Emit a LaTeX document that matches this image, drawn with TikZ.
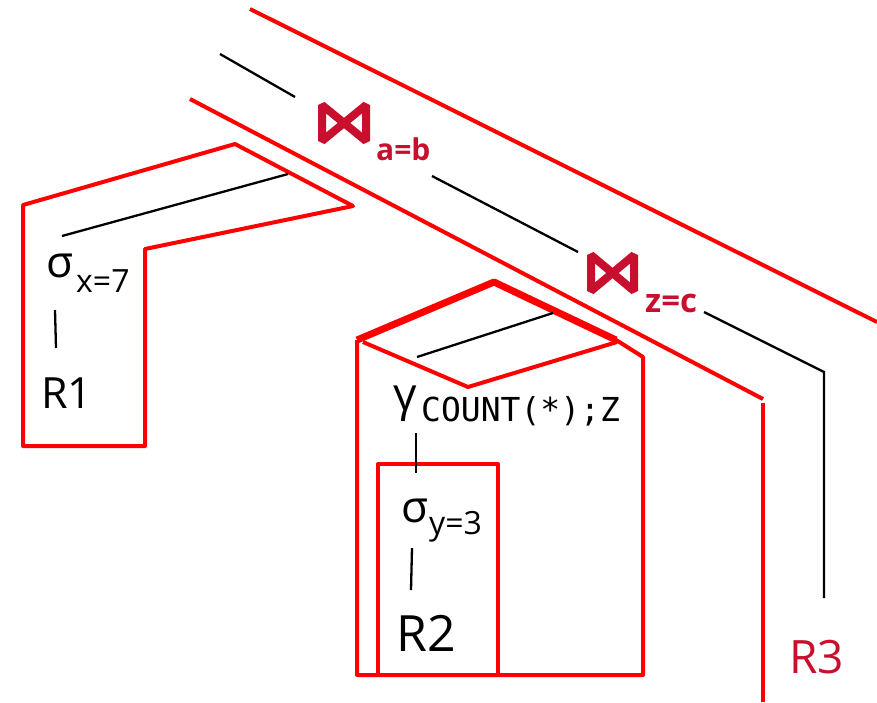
\documentclass[tikz,border=0pt]{standalone}
\usepackage{fontspec}
\setmainfont{Open Sans}
\newfontfamily\monofam{DejaVu Sans Mono}
\definecolor{crim}{RGB}{200,16,46}
\newcommand{\fsz}[1]{\fontsize{#1pt}{#1pt}\selectfont}

\begin{document}
\begin{tikzpicture}[x=1pt,y=-1pt,
  redline/.style={draw=red, line width=4pt, line join=round},
  heavyred/.style={draw=red, line width=7pt, line join=round},
  treeedge/.style={draw=black, line width=2.3pt},
  bowtie/.style={draw=crim, line width=8pt, line join=bevel},
  lbl/.style={inner sep=0pt, anchor=base west},
  joincond/.style={lbl, text=crim, font=\bfseries\fsz{#1}},
]
\useasboundingbox (0,0) rectangle (877,702);

% outer pipeline boundaries
\draw[redline] (250,9) -- (877,322);
\draw[redline] (190,99) -- (763,399);
\draw[redline] (763,403) -- (763,702);

% block around the selection on R1
\draw[redline] (23,446) -- (23,205) -- (235,144) -- (353,206) -- (145,249) -- (145,446) -- cycle;

% block around the aggregation
\draw[redline] (363,342) -- (468,387) -- (617,342);
\draw[redline] (613,338) -- (643,357) -- (643,675) -- (357,675) -- (357,340);
\draw[heavyred] (357,340) -- (494,282) -- (616,340);

% block around the selection on R2
\draw[redline] (378,464) rectangle (498,675);

% join operators
\draw[bowtie] (322,105) -- (366,141) -- (366,105) -- (322,141) -- cycle;
\draw[bowtie] (591,255) -- (634,291) -- (634,255) -- (591,291) -- cycle;
\node[joincond=30] (jab) at (376,160) {a=b};
\node[joincond=33] (jzc) at (645,312) {z=c};

% operator labels
\node[lbl, font=\fsz{44}] (selx) at (46,277) {σ};
\node[lbl, font=\fsz{32}] (selxs) at (76,292) {x=7};
\node[lbl, font=\fsz{43}] (r1) at (41,408) {R1};
\node[lbl, font=\fsz{46}] (agg) at (393,410) {γ};
\node[lbl, font=\monofam\fsz{33}] (aggs) at (421,421) {COUNT(*);Z};
\node[lbl, font=\fsz{44}] (sely) at (401,522) {σ};
\node[lbl, font=\fsz{32}] (selys) at (429,534) {y=3};
\node[lbl, font=\fsz{50}] (r2) at (396,651) {R2};
\node[lbl, font=\fsz{46}, text=crim] (r3) at (789,673) {R3};

% tree edges
\coordinate (e1a) at (220,54);   \coordinate (e1b) at (295,97);
\coordinate (e2a) at (432,176);  \coordinate (e2b) at (578,252);
\coordinate (e3a) at (704,312);  \coordinate (e3b) at (824,372);  \coordinate (e3c) at (824,598);
\coordinate (e4a) at (62,236);   \coordinate (e4b) at (288,174);
\coordinate (e5a) at (55,310);   \coordinate (e5b) at (56,348);
\coordinate (e6a) at (417,357);  \coordinate (e6b) at (553,313);
\coordinate (e7a) at (416,433);  \coordinate (e7b) at (416,473);
\coordinate (e8a) at (412,548);  \coordinate (e8b) at (411,590);
\draw[treeedge] (e1a) -- (e1b);
\draw[treeedge] (e2a) -- (e2b);
\draw[treeedge] (e3a) -- (e3b) -- (e3c);
\draw[treeedge] (e4a) -- (e4b);
\draw[treeedge] (e5a) -- (e5b);
\draw[treeedge] (e6a) -- (e6b);
\draw[treeedge] (e7a) -- (e7b);
\draw[treeedge] (e8a) -- (e8b);
\end{tikzpicture}
\end{document}
